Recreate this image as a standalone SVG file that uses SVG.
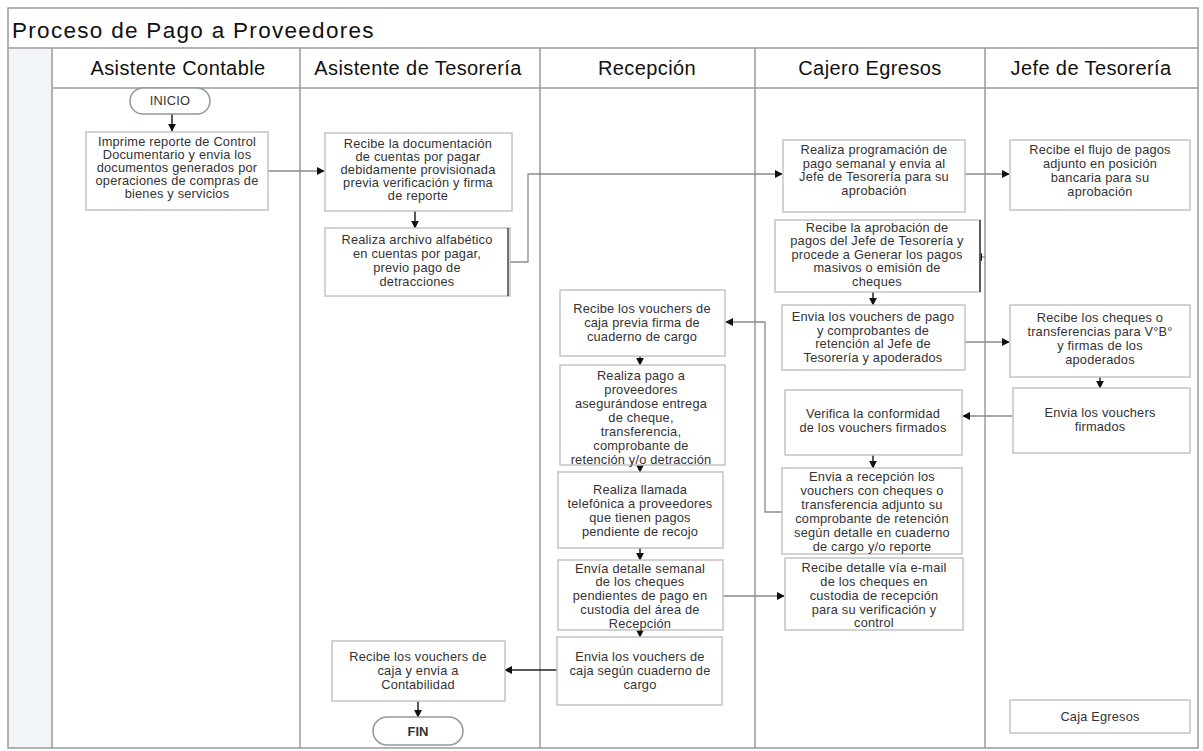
<svg xmlns="http://www.w3.org/2000/svg" width="1203" height="751" viewBox="0 0 1203 751">
  <style>
    .frame { fill: #ffffff; stroke: #9a9a9a; stroke-width: 1.5; }
    .lane { stroke: #9a9a9a; stroke-width: 1.5; fill: none; }
    .strip { fill: #f3f6f8; stroke: none; }
    .title { font-family: "Liberation Sans", Arial, sans-serif; font-size: 22.5px; letter-spacing: 1.3px; fill: #111; }
    .head { font-family: "Liberation Sans", Arial, sans-serif; font-size: 20px; letter-spacing: 0.4px; fill: #111; text-anchor: middle; }
    .box { fill: #ffffff; stroke: #c4c4c4; stroke-width: 1.5; }
    .pill { fill: #ffffff; stroke: #8e9aa4; stroke-width: 1.5; }
    .t { font-family: "Liberation Sans", Arial, sans-serif; font-size: 12.8px; letter-spacing: 0.2px; fill: #333; text-anchor: middle; }
    .tb { font-family: "Liberation Sans", Arial, sans-serif; font-size: 13px; font-weight: bold; fill: #333; text-anchor: middle; }
    .edge { fill: none; stroke: #8a8a8a; stroke-width: 1.3; }
    .edge-dark { fill: none; stroke: #222; stroke-width: 1.5; }
  </style>
  <defs>
    <marker id="arrow" viewBox="0 0 10 10" refX="9" refY="5" markerWidth="8" markerHeight="8" markerUnits="userSpaceOnUse" orient="auto">
      <path d="M0,0 L10,5 L0,10 z" fill="#111"/>
    </marker>
  </defs>

  <!-- swimlane frame -->
  <g id="swimlanes">
    <rect class="frame" x="8" y="8" width="1190" height="740"/>
    <rect class="strip" x="9" y="49" width="43" height="698"/>
    <line class="lane" x1="8" y1="48" x2="1198" y2="48"/>
    <line class="lane" x1="52" y1="88" x2="1198" y2="88"/>
    <line class="lane" x1="52" y1="48" x2="52" y2="748"/>
    <line class="lane" x1="300" y1="48" x2="300" y2="748"/>
    <line class="lane" x1="540" y1="48" x2="540" y2="748"/>
    <line class="lane" x1="755" y1="48" x2="755" y2="748"/>
    <line class="lane" x1="985" y1="48" x2="985" y2="748"/>
    <text class="title" x="12" y="38">Proceso de Pago a Proveedores</text>
    <text class="head" x="178" y="75">Asistente Contable</text>
    <text class="head" x="418" y="75">Asistente de Tesorería</text>
    <text class="head" x="647" y="75">Recepción</text>
    <text class="head" x="870" y="75">Cajero Egresos</text>
    <text class="head" x="1091" y="75">Jefe de Tesorería</text>
  </g>

  <!-- connectors -->
  <g id="connectors">
    <line class="edge-dark" x1="172" y1="114" x2="172" y2="131" marker-end="url(#arrow)"/>
    <line class="edge" x1="268" y1="171" x2="324" y2="171" marker-end="url(#arrow)"/>
    <line class="edge-dark" x1="415" y1="211" x2="415" y2="228" marker-end="url(#arrow)"/>
    <polyline class="edge" points="510,262 528,262 528,174 782,174" marker-end="url(#arrow)"/>
    <line class="edge" x1="965" y1="174" x2="1009" y2="174" marker-end="url(#arrow)"/>
    <line class="edge" x1="985" y1="257" x2="975" y2="257" marker-end="url(#arrow)"/>
    <line class="edge-dark" x1="873" y1="292" x2="873" y2="305" marker-end="url(#arrow)"/>
    <line class="edge" x1="965" y1="342" x2="1009" y2="342" marker-end="url(#arrow)"/>
    <line class="edge-dark" x1="1100" y1="377" x2="1100" y2="388" marker-end="url(#arrow)"/>
    <line class="edge" x1="1013" y1="416" x2="963" y2="416" marker-end="url(#arrow)"/>
    <line class="edge-dark" x1="873" y1="455" x2="873" y2="468" marker-end="url(#arrow)"/>
    <polyline class="edge" points="782,512 765,512 765,322 726,322" marker-end="url(#arrow)"/>
    <line class="edge-dark" x1="640" y1="356" x2="640" y2="365" marker-end="url(#arrow)"/>
    <line class="edge-dark" x1="640" y1="465" x2="640" y2="472" marker-end="url(#arrow)"/>
    <line class="edge-dark" x1="640" y1="548" x2="640" y2="560" marker-end="url(#arrow)"/>
    <line class="edge" x1="723" y1="596" x2="784" y2="596" marker-end="url(#arrow)"/>
    <line class="edge-dark" x1="640" y1="630" x2="640" y2="637" marker-end="url(#arrow)"/>
    <line class="edge-dark" x1="557" y1="670" x2="505" y2="670" marker-end="url(#arrow)"/>
    <line class="edge-dark" x1="418" y1="701" x2="418" y2="717" marker-end="url(#arrow)"/>
  </g>

  <!-- Asistente Contable -->
  <g id="inicio">
    <rect class="pill" x="130" y="88" width="80" height="26" rx="13"/>
    <text class="t" x="170" y="105">INICIO</text>
  </g>
  <g id="imprime-reporte">
    <rect class="box" x="86" y="132" width="182" height="78"/>
    <text class="t" x="177" y="146">Imprime reporte de Control</text>
    <text class="t" x="177" y="159">Documentario y envia los</text>
    <text class="t" x="177" y="172">documentos generados por</text>
    <text class="t" x="177" y="185">operaciones de compras de</text>
    <text class="t" x="177" y="198">bienes y servicios</text>
  </g>

  <!-- Asistente de Tesorería -->
  <g id="recibe-documentacion">
    <rect class="box" x="325" y="133" width="187" height="78"/>
    <text class="t" x="418" y="148">Recibe la documentación</text>
    <text class="t" x="418" y="161">de cuentas por pagar</text>
    <text class="t" x="418" y="174">debidamente provisionada</text>
    <text class="t" x="418" y="187">previa verificación y firma</text>
    <text class="t" x="418" y="200">de reporte</text>
  </g>
  <g id="archivo-alfabetico">
    <rect class="box" x="325" y="228" width="185" height="68"/>
    <line x1="508" y1="228" x2="508" y2="296" stroke="#444" stroke-width="1.5"/>
    <text class="t" x="417" y="244">Realiza archivo alfabético</text>
    <text class="t" x="417" y="258">en cuentas por pagar,</text>
    <text class="t" x="417" y="272">previo pago de</text>
    <text class="t" x="417" y="286">detracciones</text>
  </g>
  <g id="recibe-vouchers-contabilidad">
    <rect class="box" x="332" y="641" width="173" height="60"/>
    <text class="t" x="418" y="661">Recibe los vouchers de</text>
    <text class="t" x="418" y="675">caja y envia a</text>
    <text class="t" x="418" y="689">Contabilidad</text>
  </g>
  <g id="fin">
    <rect class="pill" x="373" y="717" width="90" height="28" rx="14"/>
    <text class="tb" x="418" y="736">FIN</text>
  </g>

  <!-- Recepción -->
  <g id="recibe-vouchers-caja">
    <rect class="box" x="560" y="290" width="165" height="66"/>
    <text class="t" x="642" y="313">Recibe los vouchers de</text>
    <text class="t" x="642" y="327">caja previa firma de</text>
    <text class="t" x="642" y="341">cuaderno de cargo</text>
  </g>
  <g id="realiza-pago">
    <rect class="box" x="560" y="365" width="165" height="100"/>
    <text class="t" x="641" y="380">Realiza pago a</text>
    <text class="t" x="641" y="394">proveedores</text>
    <text class="t" x="641" y="408">asegurándose entrega</text>
    <text class="t" x="641" y="422">de cheque,</text>
    <text class="t" x="641" y="436">transferencia,</text>
    <text class="t" x="641" y="450">comprobante de</text>
    <text class="t" x="641" y="464">retención y/o detracción</text>
  </g>
  <g id="llamada-telefonica">
    <rect class="box" x="558" y="472" width="165" height="76"/>
    <text class="t" x="640" y="494">Realiza llamada</text>
    <text class="t" x="640" y="508">telefónica a proveedores</text>
    <text class="t" x="640" y="522">que tienen pagos</text>
    <text class="t" x="640" y="536">pendiente de recojo</text>
  </g>
  <g id="detalle-semanal">
    <rect class="box" x="558" y="560" width="165" height="70"/>
    <text class="t" x="640" y="573">Envía detalle semanal</text>
    <text class="t" x="640" y="586">de los cheques</text>
    <text class="t" x="640" y="600">pendientes de pago en</text>
    <text class="t" x="640" y="614">custodia del área de</text>
    <text class="t" x="640" y="628">Recepción</text>
  </g>
  <g id="envia-vouchers-caja">
    <rect class="box" x="557" y="637" width="165" height="68"/>
    <text class="t" x="640" y="661">Envia los vouchers de</text>
    <text class="t" x="640" y="675">caja según cuaderno de</text>
    <text class="t" x="640" y="689">cargo</text>
  </g>

  <!-- Cajero Egresos -->
  <g id="programacion-pago">
    <rect class="box" x="783" y="140" width="182" height="72"/>
    <text class="t" x="874" y="154">Realiza programación de</text>
    <text class="t" x="874" y="168">pago semanal y envia al</text>
    <text class="t" x="874" y="181">Jefe de Tesorería para su</text>
    <text class="t" x="874" y="195">aprobación</text>
  </g>
  <g id="recibe-aprobacion">
    <rect class="box" x="775" y="220" width="205" height="72"/>
    <line x1="980" y1="220" x2="980" y2="292" stroke="#333" stroke-width="1.5"/>
    <text class="t" x="877" y="232">Recibe la aprobación de</text>
    <text class="t" x="877" y="245">pagos del Jefe de Tesorería y</text>
    <text class="t" x="877" y="259">procede a Generar los pagos</text>
    <text class="t" x="877" y="272">masivos o emisión de</text>
    <text class="t" x="877" y="286">cheques</text>
  </g>
  <g id="envia-vouchers-pago">
    <rect class="box" x="782" y="305" width="183" height="65"/>
    <text class="t" x="873" y="321">Envia los vouchers de pago</text>
    <text class="t" x="873" y="335">y comprobantes de</text>
    <text class="t" x="873" y="348">retención al Jefe de</text>
    <text class="t" x="873" y="362">Tesorería y apoderados</text>
  </g>
  <g id="verifica-conformidad">
    <rect class="box" x="785" y="390" width="177" height="65"/>
    <text class="t" x="873" y="418">Verifica la conformidad</text>
    <text class="t" x="873" y="432">de los vouchers firmados</text>
  </g>
  <g id="envia-recepcion">
    <rect class="box" x="782" y="468" width="180" height="86"/>
    <text class="t" x="872" y="481">Envia a recepción los</text>
    <text class="t" x="872" y="495">vouchers con cheques o</text>
    <text class="t" x="872" y="509">transferencia adjunto su</text>
    <text class="t" x="872" y="523">comprobante de retención</text>
    <text class="t" x="872" y="537">según detalle en cuaderno</text>
    <text class="t" x="872" y="551">de cargo y/o reporte</text>
  </g>
  <g id="recibe-detalle-email">
    <rect class="box" x="785" y="558" width="178" height="72"/>
    <text class="t" x="874" y="572">Recibe detalle vía e-mail</text>
    <text class="t" x="874" y="586">de los cheques en</text>
    <text class="t" x="874" y="600">custodia de recepción</text>
    <text class="t" x="874" y="614">para su verificación y</text>
    <text class="t" x="874" y="627">control</text>
  </g>

  <!-- Jefe de Tesorería -->
  <g id="recibe-flujo-pagos">
    <rect class="box" x="1010" y="140" width="180" height="70"/>
    <text class="t" x="1100" y="154">Recibe el flujo de pagos</text>
    <text class="t" x="1100" y="168">adjunto en posición</text>
    <text class="t" x="1100" y="182">bancaria para su</text>
    <text class="t" x="1100" y="196">aprobación</text>
  </g>
  <g id="recibe-cheques">
    <rect class="box" x="1010" y="305" width="180" height="72"/>
    <text class="t" x="1100" y="322">Recibe los cheques o</text>
    <text class="t" x="1100" y="336">transferencias para V°B°</text>
    <text class="t" x="1100" y="350">y firmas de los</text>
    <text class="t" x="1100" y="364">apoderados</text>
  </g>
  <g id="envia-vouchers-firmados">
    <rect class="box" x="1013" y="388" width="177" height="65"/>
    <text class="t" x="1100" y="417">Envia los vouchers</text>
    <text class="t" x="1100" y="431">firmados</text>
  </g>
  <g id="caja-egresos">
    <rect class="box" x="1010" y="700" width="180" height="33"/>
    <text class="t" x="1100" y="721">Caja Egresos</text>
  </g>
</svg>
